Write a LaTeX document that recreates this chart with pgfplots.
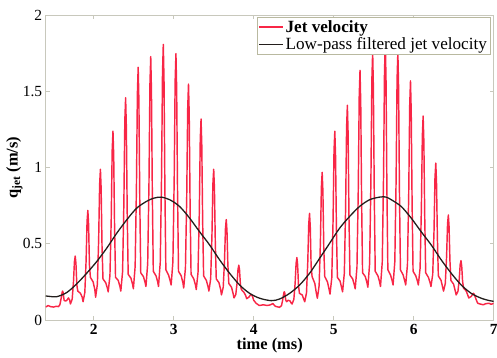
\documentclass[border=0pt]{standalone}
\usepackage{fontspec}
\setmainfont{Liberation Serif}
\usepackage{pgfplots}
\pgfplotsset{compat=1.18}
\definecolor{jetred}{RGB}{248,38,70}
\definecolor{filt}{RGB}{35,30,28}
\definecolor{axgray}{RGB}{200,200,188}
\definecolor{leggray}{RGB}{185,185,160}
\pgfplotsset{
  mylegline/.style={legend image code/.code={\draw[##1] (0bp,0bp) -- (24bp,0bp);}},
}
\begin{document}
\begin{tikzpicture}
\path[use as bounding box] (-45.7bp,-38bp) rectangle (451.3bp,320bp);
\begin{axis}[
  scale only axis, width=448bp, height=304.5bp,
  xmin=1.4, xmax=7, ymin=0, ymax=2,
  xtick={2,3,4,5,6,7}, ytick={0,0.5,1,1.5,2},
  /pgf/number format/assume math mode=true,
  tick label style={font=\fontsize{15.5}{17}\selectfont},
  xticklabel style={font=\fontsize{15.5}{17}\selectfont\bfseries, yshift=-1bp},
  axis line style={axgray, line width=0.8pt},
  tick style={axgray, line width=0.8pt},
  major tick length=4bp,
  tick align=inside,
  xlabel={\textbf{time (ms)}},
  ylabel={\textbf{q\textsubscript{jet} (m/s)}},
  label style={font=\fontsize{16.5}{18}\selectfont},
  xlabel style={at={(axis description cs:0.5,-0.084)}, anchor=center},
  ylabel style={at={(axis description cs:-0.07,0.5)}, anchor=center, rotate=0},
  legend style={at={(rel axis cs:0.992,0.994)}, anchor=north east,
    draw=leggray, fill=white, font=\fontsize{17.2}{18.5}\selectfont,
    inner xsep=1bp, inner ysep=1bp, row sep=0bp, cells={anchor=west}},
]
\addplot[color=jetred, line width=1.45pt, line join=round, mylegline] coordinates {
(1.40,0.085) (1.43,0.095) (1.46,0.088) (1.50,0.085) (1.53,0.09) (1.56,0.088)
(1.577,0.100) (1.594,0.144) (1.606,0.183) (1.612,0.19) (1.618,0.18) (1.630,0.13)
(1.642,0.125) (1.66,0.127) (1.685,0.145) (1.70,0.13)
(1.709,0.105) (1.731,0.137) (1.747,0.247) (1.759,0.382) (1.769,0.42) (1.778,0.373) (1.789,0.231) (1.801,0.19) (1.835,0.175) (1.856,0.15)
(1.867,0.12) (1.889,0.18) (1.905,0.39) (1.917,0.648) (1.927,0.72) (1.936,0.63) (1.947,0.36) (1.959,0.28) (1.993,0.25) (2.014,0.2)
(2.024,0.15) (2.046,0.234) (2.062,0.528) (2.074,0.889) (2.084,0.99) (2.093,0.864) (2.104,0.486) (2.116,0.27) (2.15,0.245) (2.171,0.21)
(2.181,0.185) (2.203,0.291) (2.219,0.660) (2.231,1.113) (2.241,1.24) (2.250,1.082) (2.261,0.607) (2.273,0.28) (2.307,0.26) (2.328,0.22)
(2.339,0.19) (2.361,0.317) (2.377,0.762) (2.389,1.308) (2.399,1.46) (2.408,1.27) (2.419,0.698) (2.431,0.30) (2.465,0.275) (2.486,0.235)
(2.496,0.205) (2.518,0.351) (2.534,0.860) (2.546,1.485) (2.556,1.66) (2.565,1.442) (2.576,0.787) (2.588,0.31) (2.622,0.285) (2.643,0.245)
(2.653,0.22) (2.675,0.371) (2.691,0.900) (2.703,1.549) (2.713,1.73) (2.722,1.504) (2.733,0.824) (2.745,0.32) (2.779,0.29) (2.80,0.25)
(2.810,0.22) (2.832,0.379) (2.848,0.936) (2.860,1.619) (2.870,1.81) (2.879,1.572) (2.890,0.856) (2.902,0.33) (2.936,0.295) (2.957,0.255)
(2.968,0.23) (2.990,0.382) (3.006,0.914) (3.018,1.568) (3.028,1.75) (3.037,1.522) (3.048,0.838) (3.060,0.32) (3.094,0.29) (3.115,0.245)
(3.125,0.21) (3.147,0.344) (3.163,0.813) (3.175,1.389) (3.185,1.55) (3.194,1.349) (3.205,0.746) (3.217,0.30) (3.251,0.27) (3.272,0.23)
(3.282,0.20) (3.304,0.312) (3.320,0.704) (3.332,1.186) (3.342,1.32) (3.351,1.152) (3.362,0.648) (3.374,0.29) (3.408,0.26) (3.429,0.22)
(3.440,0.19) (3.462,0.27) (3.478,0.55) (3.490,0.894) (3.500,0.99) (3.509,0.87) (3.520,0.51) (3.532,0.27) (3.566,0.245) (3.587,0.2)
(3.597,0.165) (3.619,0.215) (3.635,0.388) (3.647,0.601) (3.657,0.66) (3.666,0.586) (3.677,0.363) (3.689,0.24) (3.723,0.215) (3.744,0.17)
(3.754,0.145) (3.776,0.167) (3.792,0.242) (3.804,0.334) (3.814,0.36) (3.823,0.328) (3.834,0.231) (3.846,0.2) (3.88,0.18) (3.90,0.16)
(3.912,0.14) (3.94,0.15) (3.96,0.165) (3.972,0.168) (3.985,0.155) (4.0,0.13) (4.03,0.11) (4.07,0.095) (4.12,0.1) (4.17,0.095) (4.21,0.1) (4.24,0.108) (4.27,0.09) (4.31,0.085)
(4.323,0.083) (4.348,0.095) (4.365,0.14) (4.377,0.178) (4.383,0.186) (4.389,0.175) (4.401,0.13) (4.413,0.12) (4.43,0.13) (4.455,0.125) (4.47,0.11)
(4.480,0.105) (4.502,0.136) (4.518,0.242) (4.530,0.373) (4.540,0.41) (4.549,0.364) (4.560,0.227) (4.572,0.175) (4.606,0.165) (4.627,0.135)
(4.638,0.12) (4.660,0.178) (4.676,0.381) (4.688,0.630) (4.698,0.70) (4.707,0.613) (4.718,0.352) (4.730,0.285) (4.764,0.24) (4.785,0.17)
(4.796,0.143) (4.818,0.226) (4.834,0.515) (4.846,0.871) (4.856,0.97) (4.865,0.846) (4.876,0.474) (4.888,0.285) (4.922,0.25) (4.943,0.2)
(4.954,0.17) (4.976,0.277) (4.992,0.652) (5.004,1.112) (5.014,1.24) (5.023,1.08) (5.034,0.598) (5.046,0.28) (5.08,0.255) (5.10,0.21)
(5.111,0.185) (5.133,0.308) (5.149,0.736) (5.161,1.263) (5.171,1.41) (5.180,1.226) (5.191,0.675) (5.203,0.295) (5.237,0.27) (5.258,0.23)
(5.269,0.205) (5.291,0.349) (5.307,0.851) (5.319,1.468) (5.329,1.64) (5.338,1.425) (5.349,0.779) (5.361,0.31) (5.395,0.285) (5.416,0.245)
(5.427,0.215) (5.449,0.37) (5.465,0.91) (5.477,1.575) (5.487,1.76) (5.496,1.528) (5.507,0.833) (5.519,0.32) (5.553,0.29) (5.574,0.25)
(5.585,0.22) (5.607,0.38) (5.623,0.94) (5.635,1.628) (5.645,1.82) (5.654,1.58) (5.665,0.86) (5.677,0.33) (5.711,0.295) (5.732,0.255)
(5.742,0.23) (5.764,0.383) (5.780,0.919) (5.792,1.576) (5.802,1.76) (5.811,1.531) (5.822,0.842) (5.834,0.33) (5.868,0.295) (5.889,0.255)
(5.900,0.23) (5.922,0.364) (5.938,0.833) (5.950,1.409) (5.960,1.57) (5.969,1.369) (5.980,0.766) (5.992,0.32) (6.026,0.29) (6.047,0.255)
(6.058,0.23) (6.080,0.341) (6.096,0.730) (6.108,1.207) (6.118,1.34) (6.127,1.174) (6.138,0.674) (6.150,0.31) (6.184,0.28) (6.205,0.245)
(6.216,0.22) (6.238,0.301) (6.254,0.585) (6.266,0.933) (6.276,1.03) (6.285,0.909) (6.296,0.544) (6.308,0.29) (6.342,0.26) (6.362,0.215)
(6.373,0.19) (6.395,0.24) (6.411,0.415) (6.423,0.63) (6.433,0.69) (6.442,0.615) (6.453,0.39) (6.465,0.26) (6.499,0.235) (6.52,0.19)
(6.531,0.165) (6.553,0.188) (6.569,0.266) (6.581,0.363) (6.591,0.39) (6.600,0.356) (6.611,0.255) (6.623,0.21) (6.657,0.19) (6.678,0.16)
(6.689,0.145) (6.72,0.155) (6.74,0.172) (6.749,0.175) (6.76,0.165) (6.78,0.135) (6.80,0.11) (6.83,0.105) (6.87,0.1) (6.90,0.107) (6.94,0.11) (6.97,0.103) (7.0,0.11)
};
\addlegendentry{\textbf{Jet velocity}}
\addplot[color=filt, line width=1.3pt, smooth, mylegline] coordinates {
(1.40,0.158) (1.45,0.155) (1.537,0.153) (1.662,0.18) (1.787,0.237) (1.912,0.307)
(2.038,0.384) (2.163,0.472) (2.288,0.57) (2.413,0.658) (2.538,0.735) (2.663,0.78)
(2.75,0.80) (2.843,0.807) (2.95,0.79) (3.073,0.746) (3.198,0.67) (3.323,0.58)
(3.449,0.493) (3.574,0.395) (3.699,0.307) (3.824,0.23) (3.949,0.175) (4.074,0.143)
(4.22,0.127) (4.324,0.138) (4.449,0.175) (4.574,0.23) (4.699,0.307) (4.824,0.405)
(4.949,0.504) (5.074,0.603) (5.199,0.68) (5.324,0.746) (5.449,0.79) (5.574,0.807)
(5.65,0.808) (5.72,0.79) (5.843,0.746) (5.968,0.67) (6.093,0.58) (6.219,0.493)
(6.344,0.395) (6.469,0.307) (6.594,0.23) (6.719,0.175) (6.844,0.143) (6.95,0.127) (7.0,0.123)
};
\addlegendentry{Low-pass filtered jet velocity}
\end{axis}
\end{tikzpicture}
\end{document}
